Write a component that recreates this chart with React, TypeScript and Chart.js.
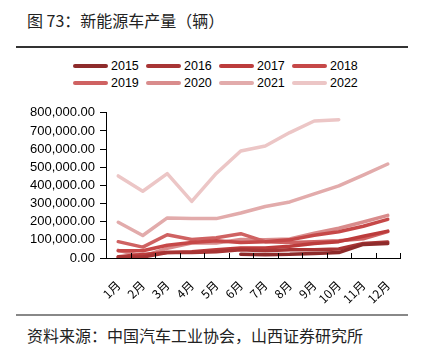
import React, { useEffect, useRef } from "react";
import { Chart, registerables } from "chart.js";

Chart.register(...registerables);

const months = ["1月", "2月", "3月", "4月", "5月", "6月", "7月", "8月", "9月", "10月", "11月", "12月"];
const years = ["2015", "2016", "2017", "2018", "2019", "2020", "2021", "2022"];
const colors = ["#8E2B2B", "#A83535", "#BC3C3C", "#C64848", "#CF6262", "#D98C8C", "#E2ABAB", "#ECC6C6"];

const v2015 = [null, null, null, null, null, 20000, 18000, 20000, 25000, 30000, 75000, 80000];
const v2016 = [5000, 5000, 30000, 30000, 35000, 45000, 40000, 45000, 45000, 50000, 80000, 88000];
const v2017 = [7000, 20000, 30000, 35000, 45000, 55000, 55000, 65000, 80000, 90000, 120000, 148000];
const v2018 = [40000, 40000, 70000, 85000, 95000, 85000, 90000, 100000, 125000, 145000, 175000, 213000];
const v2019 = [90000, 60000, 128000, 102000, 112000, 134000, 90000, 85000, 89000, 95000, 106000, 145000];
const v2020 = [42000, 10000, 53000, 82000, 83000, 102000, 100000, 105000, 136000, 164000, 198000, 235000];
const v2021 = [197000, 124000, 221000, 217000, 217000, 248000, 284000, 309000, 353000, 397000, 457000, 518000];
const v2022 = [452000, 368000, 465000, 312000, 466000, 590000, 617000, 691000, 755000, 762000, null, null];

const series = [v2015, v2016, v2017, v2018, v2019, v2020, v2021, v2022];

const FONT = "'Liberation Sans', Arial, sans-serif";
const CJK = "'Noto Sans CJK SC', 'Liberation Sans', sans-serif";

export default function App() {
  const ref = useRef<HTMLCanvasElement>(null);

  useEffect(() => {
    if (!ref.current) return;
    const innerTicks = {
      id: "innerTicks",
      afterDraw(chart: any) {
        const xs = chart.scales.x;
        const ctx = chart.ctx;
        const n = months.length;
        const step = (xs.right - xs.left) / n;
        ctx.save();
        ctx.strokeStyle = "#000";
        ctx.lineWidth = 1;
        for (let i = 0; i <= n; i++) {
          const x = Math.round(xs.left + i * step) + 0.5;
          ctx.beginPath();
          ctx.moveTo(x, xs.top - 5);
          ctx.lineTo(x, xs.top);
          ctx.stroke();
        }
        ctx.restore();
      },
    };
    const chart = new Chart(ref.current, {
      type: "line",
      data: {
        labels: months,
        datasets: years.map((y, i) => ({
          label: y,
          data: series[i],
          borderColor: colors[i],
          backgroundColor: colors[i],
          borderWidth: 3.5,
          pointRadius: 0,
          tension: 0,
          borderJoinStyle: "round" as const,
          borderCapStyle: "round" as const,
          spanGaps: false,
        })),
      },
      options: {
        animation: false,
        responsive: false,
        maintainAspectRatio: false,
        layout: { padding: { top: 8, right: 21, left: 0, bottom: 0 } },
        plugins: { legend: { display: false }, tooltip: { enabled: false } },
        scales: {
          x: {
            type: "category",
            offset: true,
            grid: { display: false, offset: true },
            border: { display: true, color: "#000", width: 1 },
            ticks: {
              autoSkip: false,
              minRotation: 45,
              maxRotation: 45,
              padding: 12,
              color: "#000",
              font: { family: CJK, size: 12 },
            },
            afterFit(scale: any) {
              scale.height = 52;
            },
          },
          y: {
            min: 0,
            max: 800000,
            grid: { drawOnChartArea: false, drawTicks: true, tickLength: 6, color: "#000" },
            border: { display: true, color: "#000", width: 1 },
            ticks: {
              autoSkip: false,
              stepSize: 100000,
              padding: 5,
              color: "#000",
              font: { family: FONT, size: 13 },
              callback: (v: any) =>
                Number(v).toLocaleString("en-US", { minimumFractionDigits: 2, maximumFractionDigits: 2 }),
            },
            afterFit(scale: any) {
              scale.width = 106;
            },
          },
        },
      },
      plugins: [innerTicks],
    });
    return () => chart.destroy();
  }, []);

  return (
    <div style={{ position: "fixed", left: 0, top: 0, width: 421, height: 360, background: "#fff", overflow: "hidden" }}>
      <div style={{ position: "absolute", left: 27, top: 8, fontFamily: CJK, fontSize: 16, lineHeight: "24px", color: "#222", whiteSpace: "nowrap" }}>
        图 73：新能源车产量（辆）
      </div>
      <div style={{ position: "absolute", left: 16, top: 46, width: 392, height: 1.5, background: "#333" }} />
      {years.map((y, i) => {
        const col = i % 4;
        const row = Math.floor(i / 4);
        return (
          <div key={y} style={{ position: "absolute", left: 73 + col * 73, top: 58 + row * 17, height: 15, display: "flex", alignItems: "center" }}>
            <div style={{ width: 35, height: 4, borderRadius: 2, background: colors[i] }} />
            <span style={{ marginLeft: 3, fontFamily: FONT, fontSize: 12.5, color: "#000" }}>{y}</span>
          </div>
        );
      })}
      <canvas ref={ref} width={421} height={210} style={{ position: "absolute", left: 0, top: 100, width: 421, height: 210 }} />
      <div style={{ position: "absolute", left: 16, top: 314, width: 392, height: 1.5, background: "#888" }} />
      <div style={{ position: "absolute", left: 27, top: 323, fontFamily: CJK, fontSize: 16, lineHeight: "24px", color: "#222", whiteSpace: "nowrap" }}>
        资料来源：中国汽车工业协会，山西证券研究所
      </div>
    </div>
  );
}
